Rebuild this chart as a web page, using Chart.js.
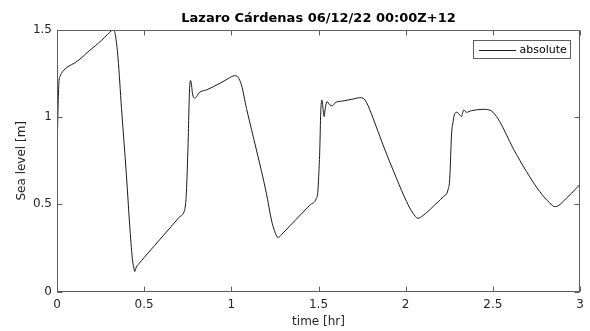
<!DOCTYPE html>
<html>
<head>
<meta charset="utf-8">
<style>
  html, body { margin: 0; padding: 0; background: #fff; }
  #wrap { width: 590px; height: 331px; }
</style>
<script src="https://cdn.jsdelivr.net/npm/chart.js@4/dist/chart.umd.min.js"></script>
</head>
<body>
<div id="wrap"><canvas id="c" width="590" height="331"></canvas></div>
<script>
// Tide-gauge record: sea level at Lazaro Cárdenas over the first three hours
const titleText = 'Lazaro Cárdenas 06/12/22 00:00Z+12';
const seriesName = 'absolute';
const xTitle = 'time [hr]';
const yTitle = 'Sea level [m]';

const timeHr = [
  0.000, 0.003, 0.006, 0.011, 0.018, 0.025, 0.040, 0.063, 0.100, 0.140,
  0.178, 0.220, 0.255, 0.290, 0.312, 0.321, 0.328, 0.335, 0.350, 0.370,
  0.398, 0.417, 0.432, 0.440, 0.446, 0.455, 0.470, 0.500, 0.560, 0.610,
  0.656, 0.700, 0.729, 0.736, 0.742, 0.752, 0.761, 0.767, 0.772, 0.777,
  0.784, 0.790, 0.800, 0.815, 0.857, 0.934, 0.980, 1.000, 1.020, 1.038,
  1.058, 1.087, 1.144, 1.201, 1.230, 1.249, 1.268, 1.287, 1.297, 1.373,
  1.450, 1.488, 1.496, 1.501, 1.507, 1.513, 1.519, 1.526, 1.532, 1.540,
  1.549, 1.565, 1.580, 1.599, 1.641, 1.698, 1.737, 1.756, 1.775, 1.813,
  1.870, 1.947, 2.005, 2.042, 2.071, 2.100, 2.157, 2.215, 2.243, 2.253,
  2.263, 2.272, 2.282, 2.295, 2.310, 2.320, 2.333, 2.349, 2.377, 2.444,
  2.482, 2.501, 2.540, 2.616, 2.693, 2.769, 2.827, 2.855, 2.874, 2.922,
  2.980, 3.000
];

const seaLevel = [
  0.780, 0.920, 1.050, 1.200, 1.235, 1.250, 1.270, 1.290, 1.310, 1.340,
  1.375, 1.410, 1.440, 1.475, 1.496, 1.500, 1.495, 1.470, 1.340, 1.050,
  0.670, 0.380, 0.190, 0.140, 0.115, 0.140, 0.160, 0.195, 0.264, 0.321,
  0.374, 0.425, 0.458, 0.490, 0.564, 0.850, 1.175, 1.210, 1.180, 1.137,
  1.112, 1.110, 1.117, 1.140, 1.156, 1.194, 1.220, 1.232, 1.238, 1.229,
  1.185, 1.050, 0.812, 0.564, 0.410, 0.344, 0.310, 0.325, 0.336, 0.415,
  0.495, 0.535, 0.570, 0.660, 0.800, 1.030, 1.099, 1.050, 1.003, 1.060,
  1.089, 1.070, 1.066, 1.085, 1.093, 1.104, 1.112, 1.108, 1.085, 0.994,
  0.841, 0.650, 0.516, 0.449, 0.420, 0.436, 0.487, 0.544, 0.583, 0.650,
  0.898, 0.974, 1.022, 1.028, 1.013, 1.003, 1.041, 1.028, 1.037, 1.045,
  1.041, 1.028, 0.974, 0.822, 0.688, 0.573, 0.507, 0.487, 0.491, 0.535,
  0.593, 0.615
];

const xTicks = [0, 0.5, 1, 1.5, 2, 2.5, 3];
const yTicks = [0, 0.5, 1, 1.5];

const FONT = "'DejaVu Sans', sans-serif";
const AXIS_COLOR = '#5e5e5e';
const TEXT_COLOR = '#262626';

// Boxed axes with inward tick marks, a centred title and a framed legend
const boxedAxes = {
  id: 'boxedAxes',
  afterDatasetsDraw(chart) {
    const { ctx, chartArea: a, scales: { x, y } } = chart;
    const L = Math.round(a.left) + 0.5;
    const R = Math.round(a.right) - 0.5;
    const T = Math.round(a.top) + 0.5;
    const B = Math.round(a.bottom) - 0.5;
    const tl = 5;
    ctx.save();
    ctx.strokeStyle = AXIS_COLOR;
    ctx.lineWidth = 1;
    ctx.strokeRect(L, T, R - L, B - T);
    ctx.beginPath();
    x.ticks.forEach(t => {
      const px = Math.round(x.getPixelForValue(t.value)) + 0.5;
      ctx.moveTo(px, B); ctx.lineTo(px, B - tl);
      ctx.moveTo(px, T); ctx.lineTo(px, T + tl);
    });
    y.ticks.forEach(t => {
      const py = Math.round(y.getPixelForValue(t.value)) + 0.5;
      ctx.moveTo(L, py); ctx.lineTo(L + tl, py);
      ctx.moveTo(R, py); ctx.lineTo(R - tl, py);
    });
    ctx.stroke();

    // title, centred over the plot box
    ctx.fillStyle = '#000';
    ctx.font = 'bold 13px ' + FONT;
    ctx.textAlign = 'center';
    ctx.textBaseline = 'middle';
    ctx.fillText(titleText, (a.left + a.right) / 2, a.top - 11.5);

    // legend
    const ds = chart.data.datasets[0];
    const bw = 97, bh = 18;
    const bx = Math.round(a.right) - 10 - bw + 0.5;
    const by = Math.round(a.top) + 10 + 0.5;
    ctx.fillStyle = '#fff';
    ctx.fillRect(bx, by, bw, bh);
    ctx.strokeStyle = AXIS_COLOR;
    ctx.strokeRect(bx, by, bw, bh);
    const my = by + bh / 2;
    ctx.beginPath();
    ctx.strokeStyle = ds.borderColor;
    ctx.lineWidth = ds.borderWidth;
    ctx.moveTo(bx + 5.5, Math.round(my) + 0.5);
    ctx.lineTo(bx + 42.5, Math.round(my) + 0.5);
    ctx.stroke();
    ctx.fillStyle = '#000';
    ctx.font = '11px ' + FONT;
    ctx.textAlign = 'left';
    ctx.textBaseline = 'middle';
    ctx.fillText(ds.label, bx + 46, my + 0.5);
    ctx.restore();
  }
};

const plain = v => String(v);

new Chart(document.getElementById('c'), {
  type: 'line',
  data: {
    datasets: [{
      label: seriesName,
      data: timeHr.map((t, i) => ({ x: t, y: seaLevel[i] })),
      borderColor: '#1a1a1a',
      borderWidth: 1,
      pointRadius: 0,
      fill: false,
      cubicInterpolationMode: 'monotone'
    }]
  },
  options: {
    responsive: false,
    animation: false,
    devicePixelRatio: 1,
    layout: { padding: { left: 0, right: 10, top: 30, bottom: 0 } },
    plugins: {
      legend: { display: false },
      tooltip: { enabled: false },
      title: { display: false }
    },
    scales: {
      x: {
        type: 'linear',
        min: 0, max: 3,
        afterFit: s => { s.height = 39.5; s.paddingLeft = 0; s.paddingRight = 0; },
        afterBuildTicks: s => { s.ticks = xTicks.map(v => ({ value: v })); },
        grid: { display: false, drawTicks: false },
        border: { display: false },
        ticks: {
          color: TEXT_COLOR, padding: 6.5, maxRotation: 0, autoSkip: false,
          font: { family: FONT, size: 12 }, callback: plain
        },
        title: {
          display: true, text: xTitle, color: TEXT_COLOR,
          font: { family: FONT, size: 12 },
          padding: { top: 0, bottom: 2 }
        }
      },
      y: {
        type: 'linear',
        min: 0, max: 1.5,
        afterFit: s => { s.width = 57; s.paddingTop = 0; s.paddingBottom = 0; },
        afterBuildTicks: s => { s.ticks = yTicks.map(v => ({ value: v })); },
        grid: { display: false, drawTicks: false },
        border: { display: false },
        ticks: {
          color: TEXT_COLOR, padding: 5, autoSkip: false,
          font: { family: FONT, size: 12 }, callback: plain
        },
        title: {
          display: true, text: yTitle, color: TEXT_COLOR,
          font: { family: FONT, size: 12 },
          padding: { top: 15, bottom: 0 }
        }
      }
    }
  },
  plugins: [boxedAxes]
});
</script>
</body>
</html>
